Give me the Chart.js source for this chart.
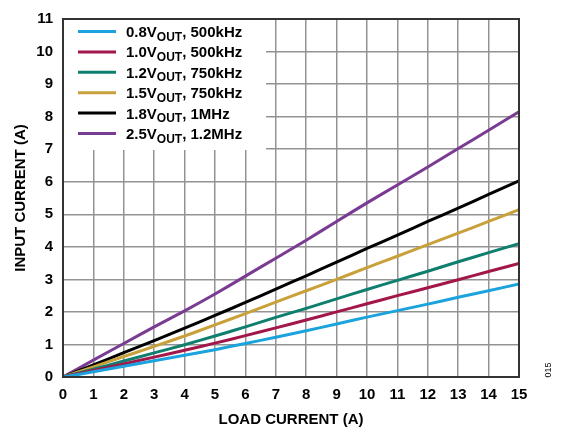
<!DOCTYPE html>
<html>
<head>
<meta charset="utf-8">
<script src="https://cdn.jsdelivr.net/npm/chart.js@4.4.1/dist/chart.umd.min.js"></script>
<style>
html, body { margin: 0; padding: 0; background: #fff; }
#wrap { width: 564px; height: 429px; }
</style>
</head>
<body>
<div id="wrap"><canvas id="chart" width="564" height="429"></canvas></div>
<script>
// load current (A)
const loadCurrent = [0, 1, 2, 3, 4, 5, 6, 7, 8, 9, 10, 11, 12, 13, 14, 15];

// input current (A) per output setting
const in08 = [0, 0.16, 0.33, 0.50, 0.67, 0.84, 1.03, 1.22, 1.42, 1.63, 1.84, 2.04, 2.24, 2.45, 2.65, 2.86];
const in10 = [0, 0.20, 0.40, 0.61, 0.82, 1.04, 1.27, 1.51, 1.75, 2.00, 2.25, 2.50, 2.74, 2.99, 3.24, 3.49];
const in12 = [0, 0.24, 0.49, 0.74, 0.99, 1.26, 1.54, 1.83, 2.11, 2.40, 2.69, 2.97, 3.25, 3.54, 3.82, 4.10];
const in15 = [0, 0.31, 0.63, 0.94, 1.26, 1.60, 1.95, 2.30, 2.65, 3.00, 3.36, 3.71, 4.07, 4.42, 4.78, 5.14];
const in18 = [0, 0.37, 0.75, 1.12, 1.50, 1.89, 2.29, 2.70, 3.11, 3.53, 3.95, 4.36, 4.78, 5.19, 5.61, 6.03];
const in25 = [0, 0.52, 1.03, 1.54, 2.03, 2.55, 3.10, 3.65, 4.20, 4.78, 5.35, 5.90, 6.45, 7.02, 7.58, 8.15];

const voltLabels = ["0.8V", "1.0V", "1.2V", "1.5V", "1.8V", "2.5V"];
const freqLabels = ["500kHz", "500kHz", "750kHz", "750kHz", "1MHz", "1.2MHz"];
const colors = ["#1aa3dc", "#a3164a", "#0e7f6e", "#c9a13a", "#000000", "#7a3b93"];
const series = [in08, in10, in12, in15, in18, in25];

const FONT = "'Liberation Sans', Arial, sans-serif";

function toPoints(vals){
    return vals.map((v, i) => ({ x: loadCurrent[i], y: v }));
}

const datasets = series.map((vals, i) => ({
    label: voltLabels[i] + "OUT, " + freqLabels[i],
    data: toPoints(vals),
    borderColor: colors[i],
    borderWidth: 3,
    pointRadius: 0,
    tension: 0.2,
    fill: false
}));

// legend with subscripts, on a white box
const legendBox = {
    id: "legendBox",
    beforeDatasetsDraw(chart){
        const ctx = chart.ctx;
        const a = chart.chartArea;
        ctx.save();
        ctx.fillStyle = "#fff";
        ctx.fillRect(a.left + 1, a.top + 1, 202, 130);
        ctx.textBaseline = "alphabetic";
        for(let i = 0; i < series.length; i++){
            const yc = 31.5 + i * 20.4;
            ctx.strokeStyle = colors[i];
            ctx.lineWidth = 3;
            ctx.beginPath();
            ctx.moveTo(78, yc);
            ctx.lineTo(116, yc);
            ctx.stroke();

            ctx.fillStyle = "#000";
            let x = 126;
            ctx.font = "bold 15px " + FONT;
            ctx.fillText(voltLabels[i], x, yc + 5.5);
            x += ctx.measureText(voltLabels[i]).width;
            ctx.font = "bold 12px " + FONT;
            ctx.fillText("OUT", x, yc + 9);
            x += ctx.measureText("OUT").width;
            ctx.font = "bold 15px " + FONT;
            ctx.fillText(", " + freqLabels[i], x, yc + 5.5);
        }
        ctx.restore();
    },
    afterDraw(chart){
        const ctx = chart.ctx;
        const a = chart.chartArea;
        ctx.save();
        ctx.strokeStyle = "#333";
        ctx.lineWidth = 2;
        ctx.strokeRect(a.left, a.top, a.right - a.left, a.bottom - a.top);
        ctx.translate(549, 370);
        ctx.rotate(-Math.PI / 2);
        ctx.font = "9px " + FONT;
        ctx.fillStyle = "#000";
        ctx.textAlign = "center";
        ctx.textBaseline = "middle";
        ctx.fillText("015", 0, 0);
        ctx.restore();
    }
};

new Chart(document.getElementById("chart"), {
    type: "line",
    data: { datasets: datasets },
    plugins: [legendBox],
    options: {
        responsive: false,
        animation: false,
        layout: { padding: { left: 0, top: 14, right: 45, bottom: 0 } },
        plugins: {
            legend: { display: false },
            tooltip: { enabled: false }
        },
        scales: {
            x: {
                type: "linear",
                min: 0,
                max: 15,
                afterFit(scale){ scale.height = 52; },
                ticks: {
                    stepSize: 1,
                    padding: 9,
                    color: "#000",
                    font: { family: FONT, size: 15, weight: "bold" }
                },
                grid: { color: "#939393", lineWidth: 1.5, drawTicks: false },
                border: { color: "#333", width: 2 },
                title: {
                    display: true,
                    text: "LOAD CURRENT (A)",
                    color: "#000",
                    padding: { top: 0, bottom: 0 },
                    font: { family: FONT, size: 15, weight: "bold" }
                }
            },
            y: {
                type: "linear",
                min: 0,
                max: 11,
                afterFit(scale){ scale.width = 63; },
                ticks: {
                    stepSize: 1,
                    padding: 10,
                    color: "#000",
                    font: { family: FONT, size: 15, weight: "bold" }
                },
                grid: { color: "#939393", lineWidth: 1.5, drawTicks: false },
                border: { color: "#333", width: 2 },
                title: {
                    display: true,
                    text: "INPUT CURRENT (A)",
                    color: "#000",
                    padding: { top: 12, bottom: 0 },
                    font: { family: FONT, size: 15, weight: "bold" }
                }
            }
        }
    }
});
</script>
</body>
</html>
